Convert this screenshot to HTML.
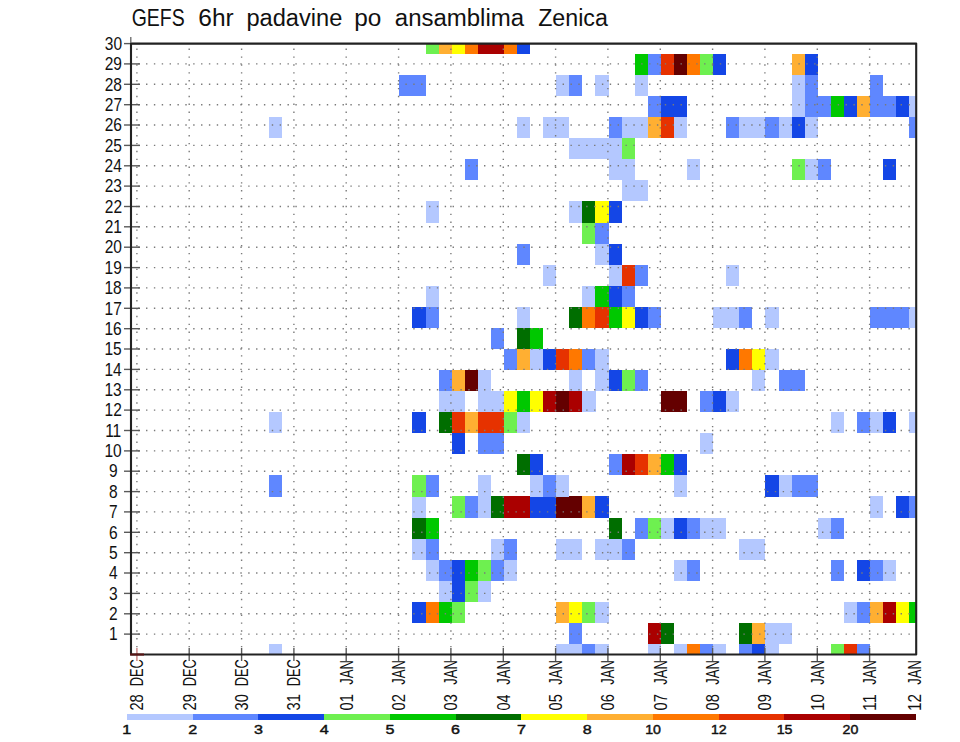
<!DOCTYPE html>
<html><head><meta charset="utf-8"><title>GEFS 6hr padavine po ansamblima Zenica</title>
<style>html,body{margin:0;padding:0;background:#fff;width:960px;height:742px;overflow:hidden}svg{display:block}text{font-family:"Liberation Sans","DejaVu Sans",sans-serif;fill:#111}</style></head><body>
<svg width="960" height="742" viewBox="0 0 960 742">
<rect width="960" height="742" fill="#fff"/>
<g shape-rendering="crispEdges">
<rect x="268.6" y="644.0" width="13.1" height="10.5" fill="#b4c8ff"/>
<rect x="268.6" y="475.4" width="13.1" height="21.1" fill="#5f87ff"/>
<rect x="268.6" y="412.1" width="13.1" height="21.1" fill="#b4c8ff"/>
<rect x="268.6" y="117.1" width="13.1" height="21.1" fill="#b4c8ff"/>
<rect x="399.3" y="74.9" width="13.1" height="21.1" fill="#5f87ff"/>
<rect x="412.4" y="601.8" width="13.1" height="21.1" fill="#1446e6"/>
<rect x="412.4" y="538.6" width="13.1" height="21.1" fill="#b4c8ff"/>
<rect x="412.4" y="517.5" width="13.1" height="21.1" fill="#006e00"/>
<rect x="412.4" y="496.4" width="13.1" height="21.1" fill="#b4c8ff"/>
<rect x="412.4" y="475.4" width="13.1" height="21.1" fill="#6ef050"/>
<rect x="412.4" y="412.1" width="13.1" height="21.1" fill="#1446e6"/>
<rect x="412.4" y="306.7" width="13.1" height="21.1" fill="#1446e6"/>
<rect x="412.4" y="74.9" width="13.1" height="21.1" fill="#5f87ff"/>
<rect x="425.5" y="601.8" width="13.1" height="21.1" fill="#ff7800"/>
<rect x="425.5" y="559.7" width="13.1" height="21.1" fill="#b4c8ff"/>
<rect x="425.5" y="538.6" width="13.1" height="21.1" fill="#5f87ff"/>
<rect x="425.5" y="517.5" width="13.1" height="21.1" fill="#00c800"/>
<rect x="425.5" y="475.4" width="13.1" height="21.1" fill="#5f87ff"/>
<rect x="425.5" y="306.7" width="13.1" height="21.1" fill="#5f87ff"/>
<rect x="425.5" y="285.7" width="13.1" height="21.1" fill="#b4c8ff"/>
<rect x="425.5" y="201.4" width="13.1" height="21.1" fill="#b4c8ff"/>
<rect x="425.5" y="43.6" width="13.1" height="10.2" fill="#6ef050"/>
<rect x="438.5" y="601.8" width="13.1" height="21.1" fill="#00c800"/>
<rect x="438.5" y="580.7" width="13.1" height="21.1" fill="#b4c8ff"/>
<rect x="438.5" y="559.7" width="13.1" height="21.1" fill="#5f87ff"/>
<rect x="438.5" y="412.1" width="13.1" height="21.1" fill="#006e00"/>
<rect x="438.5" y="391.1" width="13.1" height="21.1" fill="#b4c8ff"/>
<rect x="438.5" y="370.0" width="13.1" height="21.1" fill="#5f87ff"/>
<rect x="438.5" y="43.6" width="13.1" height="10.2" fill="#ffaf32"/>
<rect x="451.6" y="601.8" width="13.1" height="21.1" fill="#6ef050"/>
<rect x="451.6" y="580.7" width="13.1" height="21.1" fill="#1446e6"/>
<rect x="451.6" y="559.7" width="13.1" height="21.1" fill="#1446e6"/>
<rect x="451.6" y="496.4" width="13.1" height="21.1" fill="#6ef050"/>
<rect x="451.6" y="433.2" width="13.1" height="21.1" fill="#1446e6"/>
<rect x="451.6" y="412.1" width="13.1" height="21.1" fill="#e63200"/>
<rect x="451.6" y="391.1" width="13.1" height="21.1" fill="#b4c8ff"/>
<rect x="451.6" y="370.0" width="13.1" height="21.1" fill="#ffaf32"/>
<rect x="451.6" y="43.6" width="13.1" height="10.2" fill="#ffff00"/>
<rect x="464.7" y="580.7" width="13.1" height="21.1" fill="#6ef050"/>
<rect x="464.7" y="559.7" width="13.1" height="21.1" fill="#00c800"/>
<rect x="464.7" y="496.4" width="13.1" height="21.1" fill="#5f87ff"/>
<rect x="464.7" y="412.1" width="13.1" height="21.1" fill="#ffaf32"/>
<rect x="464.7" y="370.0" width="13.1" height="21.1" fill="#640000"/>
<rect x="464.7" y="159.2" width="13.1" height="21.1" fill="#5f87ff"/>
<rect x="464.7" y="43.6" width="13.1" height="10.2" fill="#ff7800"/>
<rect x="477.8" y="580.7" width="13.1" height="21.1" fill="#b4c8ff"/>
<rect x="477.8" y="559.7" width="13.1" height="21.1" fill="#6ef050"/>
<rect x="477.8" y="496.4" width="13.1" height="21.1" fill="#b4c8ff"/>
<rect x="477.8" y="475.4" width="13.1" height="21.1" fill="#b4c8ff"/>
<rect x="477.8" y="433.2" width="13.1" height="21.1" fill="#5f87ff"/>
<rect x="477.8" y="412.1" width="13.1" height="21.1" fill="#e63200"/>
<rect x="477.8" y="391.1" width="13.1" height="21.1" fill="#b4c8ff"/>
<rect x="477.8" y="370.0" width="13.1" height="21.1" fill="#b4c8ff"/>
<rect x="477.8" y="43.6" width="13.1" height="10.2" fill="#aa0000"/>
<rect x="490.8" y="559.7" width="13.1" height="21.1" fill="#5f87ff"/>
<rect x="490.8" y="538.6" width="13.1" height="21.1" fill="#b4c8ff"/>
<rect x="490.8" y="496.4" width="13.1" height="21.1" fill="#006e00"/>
<rect x="490.8" y="433.2" width="13.1" height="21.1" fill="#5f87ff"/>
<rect x="490.8" y="412.1" width="13.1" height="21.1" fill="#e63200"/>
<rect x="490.8" y="391.1" width="13.1" height="21.1" fill="#b4c8ff"/>
<rect x="490.8" y="327.8" width="13.1" height="21.1" fill="#5f87ff"/>
<rect x="490.8" y="43.6" width="13.1" height="10.2" fill="#aa0000"/>
<rect x="503.9" y="559.7" width="13.1" height="21.1" fill="#b4c8ff"/>
<rect x="503.9" y="538.6" width="13.1" height="21.1" fill="#5f87ff"/>
<rect x="503.9" y="496.4" width="13.1" height="21.1" fill="#aa0000"/>
<rect x="503.9" y="412.1" width="13.1" height="21.1" fill="#6ef050"/>
<rect x="503.9" y="391.1" width="13.1" height="21.1" fill="#ffff00"/>
<rect x="503.9" y="348.9" width="13.1" height="21.1" fill="#5f87ff"/>
<rect x="503.9" y="43.6" width="13.1" height="10.2" fill="#ff7800"/>
<rect x="517.0" y="496.4" width="13.1" height="21.1" fill="#aa0000"/>
<rect x="517.0" y="454.3" width="13.1" height="21.1" fill="#006e00"/>
<rect x="517.0" y="412.1" width="13.1" height="21.1" fill="#b4c8ff"/>
<rect x="517.0" y="391.1" width="13.1" height="21.1" fill="#00c800"/>
<rect x="517.0" y="348.9" width="13.1" height="21.1" fill="#ffaf32"/>
<rect x="517.0" y="327.8" width="13.1" height="21.1" fill="#006e00"/>
<rect x="517.0" y="306.7" width="13.1" height="21.1" fill="#b4c8ff"/>
<rect x="517.0" y="243.5" width="13.1" height="21.1" fill="#5f87ff"/>
<rect x="517.0" y="117.1" width="13.1" height="21.1" fill="#b4c8ff"/>
<rect x="517.0" y="43.6" width="13.1" height="10.2" fill="#1446e6"/>
<rect x="530.1" y="496.4" width="13.1" height="21.1" fill="#1446e6"/>
<rect x="530.1" y="475.4" width="13.1" height="21.1" fill="#b4c8ff"/>
<rect x="530.1" y="454.3" width="13.1" height="21.1" fill="#1446e6"/>
<rect x="530.1" y="391.1" width="13.1" height="21.1" fill="#ffff00"/>
<rect x="530.1" y="348.9" width="13.1" height="21.1" fill="#b4c8ff"/>
<rect x="530.1" y="327.8" width="13.1" height="21.1" fill="#00c800"/>
<rect x="543.1" y="496.4" width="13.1" height="21.1" fill="#1446e6"/>
<rect x="543.1" y="475.4" width="13.1" height="21.1" fill="#5f87ff"/>
<rect x="543.1" y="391.1" width="13.1" height="21.1" fill="#aa0000"/>
<rect x="543.1" y="348.9" width="13.1" height="21.1" fill="#1446e6"/>
<rect x="543.1" y="264.6" width="13.1" height="21.1" fill="#b4c8ff"/>
<rect x="543.1" y="117.1" width="13.1" height="21.1" fill="#b4c8ff"/>
<rect x="556.2" y="644.0" width="13.1" height="10.5" fill="#b4c8ff"/>
<rect x="556.2" y="601.8" width="13.1" height="21.1" fill="#ffaf32"/>
<rect x="556.2" y="538.6" width="13.1" height="21.1" fill="#b4c8ff"/>
<rect x="556.2" y="496.4" width="13.1" height="21.1" fill="#640000"/>
<rect x="556.2" y="475.4" width="13.1" height="21.1" fill="#b4c8ff"/>
<rect x="556.2" y="391.1" width="13.1" height="21.1" fill="#640000"/>
<rect x="556.2" y="348.9" width="13.1" height="21.1" fill="#e63200"/>
<rect x="556.2" y="117.1" width="13.1" height="21.1" fill="#b4c8ff"/>
<rect x="556.2" y="74.9" width="13.1" height="21.1" fill="#b4c8ff"/>
<rect x="569.3" y="644.0" width="13.1" height="10.5" fill="#b4c8ff"/>
<rect x="569.3" y="622.9" width="13.1" height="21.1" fill="#5f87ff"/>
<rect x="569.3" y="601.8" width="13.1" height="21.1" fill="#ffff00"/>
<rect x="569.3" y="538.6" width="13.1" height="21.1" fill="#b4c8ff"/>
<rect x="569.3" y="496.4" width="13.1" height="21.1" fill="#640000"/>
<rect x="569.3" y="391.1" width="13.1" height="21.1" fill="#aa0000"/>
<rect x="569.3" y="370.0" width="13.1" height="21.1" fill="#b4c8ff"/>
<rect x="569.3" y="348.9" width="13.1" height="21.1" fill="#ff7800"/>
<rect x="569.3" y="306.7" width="13.1" height="21.1" fill="#006e00"/>
<rect x="569.3" y="201.4" width="13.1" height="21.1" fill="#b4c8ff"/>
<rect x="569.3" y="138.1" width="13.1" height="21.1" fill="#b4c8ff"/>
<rect x="569.3" y="74.9" width="13.1" height="21.1" fill="#5f87ff"/>
<rect x="582.4" y="644.0" width="13.1" height="10.5" fill="#5f87ff"/>
<rect x="582.4" y="601.8" width="13.1" height="21.1" fill="#6ef050"/>
<rect x="582.4" y="496.4" width="13.1" height="21.1" fill="#ffaf32"/>
<rect x="582.4" y="391.1" width="13.1" height="21.1" fill="#b4c8ff"/>
<rect x="582.4" y="348.9" width="13.1" height="21.1" fill="#5f87ff"/>
<rect x="582.4" y="306.7" width="13.1" height="21.1" fill="#ff7800"/>
<rect x="582.4" y="285.7" width="13.1" height="21.1" fill="#b4c8ff"/>
<rect x="582.4" y="222.4" width="13.1" height="21.1" fill="#6ef050"/>
<rect x="582.4" y="201.4" width="13.1" height="21.1" fill="#006e00"/>
<rect x="582.4" y="138.1" width="13.1" height="21.1" fill="#b4c8ff"/>
<rect x="595.4" y="644.0" width="13.1" height="10.5" fill="#b4c8ff"/>
<rect x="595.4" y="601.8" width="13.1" height="21.1" fill="#b4c8ff"/>
<rect x="595.4" y="538.6" width="13.1" height="21.1" fill="#b4c8ff"/>
<rect x="595.4" y="496.4" width="13.1" height="21.1" fill="#1446e6"/>
<rect x="595.4" y="370.0" width="13.1" height="21.1" fill="#b4c8ff"/>
<rect x="595.4" y="348.9" width="13.1" height="21.1" fill="#b4c8ff"/>
<rect x="595.4" y="306.7" width="13.1" height="21.1" fill="#e63200"/>
<rect x="595.4" y="285.7" width="13.1" height="21.1" fill="#00c800"/>
<rect x="595.4" y="243.5" width="13.1" height="21.1" fill="#b4c8ff"/>
<rect x="595.4" y="222.4" width="13.1" height="21.1" fill="#5f87ff"/>
<rect x="595.4" y="201.4" width="13.1" height="21.1" fill="#ffff00"/>
<rect x="595.4" y="138.1" width="13.1" height="21.1" fill="#b4c8ff"/>
<rect x="595.4" y="74.9" width="13.1" height="21.1" fill="#b4c8ff"/>
<rect x="608.5" y="538.6" width="13.1" height="21.1" fill="#b4c8ff"/>
<rect x="608.5" y="517.5" width="13.1" height="21.1" fill="#006e00"/>
<rect x="608.5" y="454.3" width="13.1" height="21.1" fill="#5f87ff"/>
<rect x="608.5" y="370.0" width="13.1" height="21.1" fill="#1446e6"/>
<rect x="608.5" y="306.7" width="13.1" height="21.1" fill="#00c800"/>
<rect x="608.5" y="285.7" width="13.1" height="21.1" fill="#1446e6"/>
<rect x="608.5" y="264.6" width="13.1" height="21.1" fill="#b4c8ff"/>
<rect x="608.5" y="243.5" width="13.1" height="21.1" fill="#1446e6"/>
<rect x="608.5" y="201.4" width="13.1" height="21.1" fill="#1446e6"/>
<rect x="608.5" y="159.2" width="13.1" height="21.1" fill="#b4c8ff"/>
<rect x="608.5" y="138.1" width="13.1" height="21.1" fill="#b4c8ff"/>
<rect x="608.5" y="117.1" width="13.1" height="21.1" fill="#5f87ff"/>
<rect x="621.6" y="538.6" width="13.1" height="21.1" fill="#5f87ff"/>
<rect x="621.6" y="454.3" width="13.1" height="21.1" fill="#aa0000"/>
<rect x="621.6" y="370.0" width="13.1" height="21.1" fill="#6ef050"/>
<rect x="621.6" y="306.7" width="13.1" height="21.1" fill="#ffff00"/>
<rect x="621.6" y="285.7" width="13.1" height="21.1" fill="#5f87ff"/>
<rect x="621.6" y="264.6" width="13.1" height="21.1" fill="#e63200"/>
<rect x="621.6" y="180.3" width="13.1" height="21.1" fill="#b4c8ff"/>
<rect x="621.6" y="159.2" width="13.1" height="21.1" fill="#b4c8ff"/>
<rect x="621.6" y="138.1" width="13.1" height="21.1" fill="#6ef050"/>
<rect x="621.6" y="117.1" width="13.1" height="21.1" fill="#b4c8ff"/>
<rect x="634.7" y="517.5" width="13.1" height="21.1" fill="#5f87ff"/>
<rect x="634.7" y="454.3" width="13.1" height="21.1" fill="#e63200"/>
<rect x="634.7" y="370.0" width="13.1" height="21.1" fill="#5f87ff"/>
<rect x="634.7" y="306.7" width="13.1" height="21.1" fill="#1446e6"/>
<rect x="634.7" y="264.6" width="13.1" height="21.1" fill="#5f87ff"/>
<rect x="634.7" y="180.3" width="13.1" height="21.1" fill="#b4c8ff"/>
<rect x="634.7" y="117.1" width="13.1" height="21.1" fill="#b4c8ff"/>
<rect x="634.7" y="74.9" width="13.1" height="21.1" fill="#b4c8ff"/>
<rect x="634.7" y="53.8" width="13.1" height="21.1" fill="#00c800"/>
<rect x="647.7" y="644.0" width="13.1" height="10.5" fill="#b4c8ff"/>
<rect x="647.7" y="622.9" width="13.1" height="21.1" fill="#aa0000"/>
<rect x="647.7" y="517.5" width="13.1" height="21.1" fill="#6ef050"/>
<rect x="647.7" y="454.3" width="13.1" height="21.1" fill="#ffaf32"/>
<rect x="647.7" y="306.7" width="13.1" height="21.1" fill="#5f87ff"/>
<rect x="647.7" y="117.1" width="13.1" height="21.1" fill="#ffaf32"/>
<rect x="647.7" y="96.0" width="13.1" height="21.1" fill="#5f87ff"/>
<rect x="647.7" y="53.8" width="13.1" height="21.1" fill="#5f87ff"/>
<rect x="660.8" y="622.9" width="13.1" height="21.1" fill="#006e00"/>
<rect x="660.8" y="517.5" width="13.1" height="21.1" fill="#b4c8ff"/>
<rect x="660.8" y="454.3" width="13.1" height="21.1" fill="#00c800"/>
<rect x="660.8" y="391.1" width="13.1" height="21.1" fill="#640000"/>
<rect x="660.8" y="117.1" width="13.1" height="21.1" fill="#e63200"/>
<rect x="660.8" y="96.0" width="13.1" height="21.1" fill="#1446e6"/>
<rect x="660.8" y="53.8" width="13.1" height="21.1" fill="#e63200"/>
<rect x="673.9" y="644.0" width="13.1" height="10.5" fill="#b4c8ff"/>
<rect x="673.9" y="559.7" width="13.1" height="21.1" fill="#b4c8ff"/>
<rect x="673.9" y="517.5" width="13.1" height="21.1" fill="#1446e6"/>
<rect x="673.9" y="475.4" width="13.1" height="21.1" fill="#b4c8ff"/>
<rect x="673.9" y="454.3" width="13.1" height="21.1" fill="#1446e6"/>
<rect x="673.9" y="391.1" width="13.1" height="21.1" fill="#640000"/>
<rect x="673.9" y="117.1" width="13.1" height="21.1" fill="#b4c8ff"/>
<rect x="673.9" y="96.0" width="13.1" height="21.1" fill="#1446e6"/>
<rect x="673.9" y="53.8" width="13.1" height="21.1" fill="#640000"/>
<rect x="687.0" y="644.0" width="13.1" height="10.5" fill="#ff7800"/>
<rect x="687.0" y="559.7" width="13.1" height="21.1" fill="#5f87ff"/>
<rect x="687.0" y="517.5" width="13.1" height="21.1" fill="#5f87ff"/>
<rect x="687.0" y="159.2" width="13.1" height="21.1" fill="#b4c8ff"/>
<rect x="687.0" y="53.8" width="13.1" height="21.1" fill="#ff7800"/>
<rect x="700.0" y="644.0" width="13.1" height="10.5" fill="#5f87ff"/>
<rect x="700.0" y="517.5" width="13.1" height="21.1" fill="#b4c8ff"/>
<rect x="700.0" y="433.2" width="13.1" height="21.1" fill="#b4c8ff"/>
<rect x="700.0" y="391.1" width="13.1" height="21.1" fill="#5f87ff"/>
<rect x="700.0" y="53.8" width="13.1" height="21.1" fill="#6ef050"/>
<rect x="713.1" y="644.0" width="13.1" height="10.5" fill="#b4c8ff"/>
<rect x="713.1" y="517.5" width="13.1" height="21.1" fill="#b4c8ff"/>
<rect x="713.1" y="391.1" width="13.1" height="21.1" fill="#1446e6"/>
<rect x="713.1" y="306.7" width="13.1" height="21.1" fill="#b4c8ff"/>
<rect x="713.1" y="53.8" width="13.1" height="21.1" fill="#1446e6"/>
<rect x="726.2" y="391.1" width="13.1" height="21.1" fill="#b4c8ff"/>
<rect x="726.2" y="348.9" width="13.1" height="21.1" fill="#1446e6"/>
<rect x="726.2" y="306.7" width="13.1" height="21.1" fill="#b4c8ff"/>
<rect x="726.2" y="264.6" width="13.1" height="21.1" fill="#b4c8ff"/>
<rect x="726.2" y="117.1" width="13.1" height="21.1" fill="#5f87ff"/>
<rect x="739.3" y="644.0" width="13.1" height="10.5" fill="#5f87ff"/>
<rect x="739.3" y="622.9" width="13.1" height="21.1" fill="#006e00"/>
<rect x="739.3" y="538.6" width="13.1" height="21.1" fill="#b4c8ff"/>
<rect x="739.3" y="348.9" width="13.1" height="21.1" fill="#ff7800"/>
<rect x="739.3" y="306.7" width="13.1" height="21.1" fill="#5f87ff"/>
<rect x="739.3" y="117.1" width="13.1" height="21.1" fill="#b4c8ff"/>
<rect x="752.3" y="644.0" width="13.1" height="10.5" fill="#1446e6"/>
<rect x="752.3" y="622.9" width="13.1" height="21.1" fill="#ffaf32"/>
<rect x="752.3" y="538.6" width="13.1" height="21.1" fill="#b4c8ff"/>
<rect x="752.3" y="370.0" width="13.1" height="21.1" fill="#b4c8ff"/>
<rect x="752.3" y="348.9" width="13.1" height="21.1" fill="#ffff00"/>
<rect x="752.3" y="117.1" width="13.1" height="21.1" fill="#b4c8ff"/>
<rect x="765.4" y="644.0" width="13.1" height="10.5" fill="#b4c8ff"/>
<rect x="765.4" y="622.9" width="13.1" height="21.1" fill="#b4c8ff"/>
<rect x="765.4" y="475.4" width="13.1" height="21.1" fill="#1446e6"/>
<rect x="765.4" y="348.9" width="13.1" height="21.1" fill="#b4c8ff"/>
<rect x="765.4" y="306.7" width="13.1" height="21.1" fill="#b4c8ff"/>
<rect x="765.4" y="117.1" width="13.1" height="21.1" fill="#5f87ff"/>
<rect x="778.5" y="622.9" width="13.1" height="21.1" fill="#b4c8ff"/>
<rect x="778.5" y="475.4" width="13.1" height="21.1" fill="#b4c8ff"/>
<rect x="778.5" y="370.0" width="13.1" height="21.1" fill="#5f87ff"/>
<rect x="778.5" y="117.1" width="13.1" height="21.1" fill="#b4c8ff"/>
<rect x="791.6" y="475.4" width="13.1" height="21.1" fill="#5f87ff"/>
<rect x="791.6" y="370.0" width="13.1" height="21.1" fill="#5f87ff"/>
<rect x="791.6" y="159.2" width="13.1" height="21.1" fill="#6ef050"/>
<rect x="791.6" y="117.1" width="13.1" height="21.1" fill="#1446e6"/>
<rect x="791.6" y="96.0" width="13.1" height="21.1" fill="#b4c8ff"/>
<rect x="791.6" y="74.9" width="13.1" height="21.1" fill="#b4c8ff"/>
<rect x="791.6" y="53.8" width="13.1" height="21.1" fill="#ffaf32"/>
<rect x="804.6" y="475.4" width="13.1" height="21.1" fill="#5f87ff"/>
<rect x="804.6" y="159.2" width="13.1" height="21.1" fill="#b4c8ff"/>
<rect x="804.6" y="117.1" width="13.1" height="21.1" fill="#b4c8ff"/>
<rect x="804.6" y="96.0" width="13.1" height="21.1" fill="#5f87ff"/>
<rect x="804.6" y="74.9" width="13.1" height="21.1" fill="#5f87ff"/>
<rect x="804.6" y="53.8" width="13.1" height="21.1" fill="#1446e6"/>
<rect x="817.7" y="517.5" width="13.1" height="21.1" fill="#b4c8ff"/>
<rect x="817.7" y="159.2" width="13.1" height="21.1" fill="#5f87ff"/>
<rect x="817.7" y="96.0" width="13.1" height="21.1" fill="#5f87ff"/>
<rect x="830.8" y="644.0" width="13.1" height="10.5" fill="#6ef050"/>
<rect x="830.8" y="559.7" width="13.1" height="21.1" fill="#5f87ff"/>
<rect x="830.8" y="517.5" width="13.1" height="21.1" fill="#5f87ff"/>
<rect x="830.8" y="412.1" width="13.1" height="21.1" fill="#b4c8ff"/>
<rect x="830.8" y="96.0" width="13.1" height="21.1" fill="#00c800"/>
<rect x="843.9" y="644.0" width="13.1" height="10.5" fill="#e63200"/>
<rect x="843.9" y="601.8" width="13.1" height="21.1" fill="#b4c8ff"/>
<rect x="843.9" y="96.0" width="13.1" height="21.1" fill="#1446e6"/>
<rect x="856.9" y="644.0" width="13.1" height="10.5" fill="#5f87ff"/>
<rect x="856.9" y="601.8" width="13.1" height="21.1" fill="#5f87ff"/>
<rect x="856.9" y="559.7" width="13.1" height="21.1" fill="#1446e6"/>
<rect x="856.9" y="412.1" width="13.1" height="21.1" fill="#5f87ff"/>
<rect x="856.9" y="96.0" width="13.1" height="21.1" fill="#ffaf32"/>
<rect x="870.0" y="601.8" width="13.1" height="21.1" fill="#ffaf32"/>
<rect x="870.0" y="559.7" width="13.1" height="21.1" fill="#5f87ff"/>
<rect x="870.0" y="496.4" width="13.1" height="21.1" fill="#b4c8ff"/>
<rect x="870.0" y="412.1" width="13.1" height="21.1" fill="#b4c8ff"/>
<rect x="870.0" y="306.7" width="13.1" height="21.1" fill="#5f87ff"/>
<rect x="870.0" y="96.0" width="13.1" height="21.1" fill="#5f87ff"/>
<rect x="870.0" y="74.9" width="13.1" height="21.1" fill="#5f87ff"/>
<rect x="883.1" y="601.8" width="13.1" height="21.1" fill="#aa0000"/>
<rect x="883.1" y="559.7" width="13.1" height="21.1" fill="#b4c8ff"/>
<rect x="883.1" y="412.1" width="13.1" height="21.1" fill="#1446e6"/>
<rect x="883.1" y="306.7" width="13.1" height="21.1" fill="#5f87ff"/>
<rect x="883.1" y="159.2" width="13.1" height="21.1" fill="#1446e6"/>
<rect x="883.1" y="96.0" width="13.1" height="21.1" fill="#5f87ff"/>
<rect x="896.2" y="601.8" width="13.1" height="21.1" fill="#ffff00"/>
<rect x="896.2" y="496.4" width="13.1" height="21.1" fill="#1446e6"/>
<rect x="896.2" y="306.7" width="13.1" height="21.1" fill="#5f87ff"/>
<rect x="896.2" y="96.0" width="13.1" height="21.1" fill="#1446e6"/>
<rect x="909.2" y="601.8" width="6.8" height="21.1" fill="#00c800"/>
<rect x="909.2" y="496.4" width="6.8" height="21.1" fill="#5f87ff"/>
<rect x="909.2" y="412.1" width="6.8" height="21.1" fill="#b4c8ff"/>
<rect x="909.2" y="306.7" width="6.8" height="21.1" fill="#b4c8ff"/>
<rect x="909.2" y="117.1" width="6.8" height="21.1" fill="#5f87ff"/>
<rect x="909.2" y="96.0" width="6.8" height="21.1" fill="#b4c8ff"/>
</g>
<g stroke="#7a7a7a" stroke-width="1.4" stroke-dasharray="1.4 6.46" fill="none">
<line x1="130.3" y1="634.1" x2="916.0" y2="634.1"/>
<line x1="130.3" y1="613.8" x2="916.0" y2="613.8"/>
<line x1="130.3" y1="593.4" x2="916.0" y2="593.4"/>
<line x1="130.3" y1="573.0" x2="916.0" y2="573.0"/>
<line x1="130.3" y1="552.7" x2="916.0" y2="552.7"/>
<line x1="130.3" y1="532.3" x2="916.0" y2="532.3"/>
<line x1="130.3" y1="511.9" x2="916.0" y2="511.9"/>
<line x1="130.3" y1="491.6" x2="916.0" y2="491.6"/>
<line x1="130.3" y1="471.2" x2="916.0" y2="471.2"/>
<line x1="130.3" y1="450.9" x2="916.0" y2="450.9"/>
<line x1="130.3" y1="430.5" x2="916.0" y2="430.5"/>
<line x1="130.3" y1="410.1" x2="916.0" y2="410.1"/>
<line x1="130.3" y1="389.8" x2="916.0" y2="389.8"/>
<line x1="130.3" y1="369.4" x2="916.0" y2="369.4"/>
<line x1="130.3" y1="349.0" x2="916.0" y2="349.0"/>
<line x1="130.3" y1="328.7" x2="916.0" y2="328.7"/>
<line x1="130.3" y1="308.3" x2="916.0" y2="308.3"/>
<line x1="130.3" y1="287.9" x2="916.0" y2="287.9"/>
<line x1="130.3" y1="267.6" x2="916.0" y2="267.6"/>
<line x1="130.3" y1="247.2" x2="916.0" y2="247.2"/>
<line x1="130.3" y1="226.8" x2="916.0" y2="226.8"/>
<line x1="130.3" y1="206.5" x2="916.0" y2="206.5"/>
<line x1="130.3" y1="186.1" x2="916.0" y2="186.1"/>
<line x1="130.3" y1="165.8" x2="916.0" y2="165.8"/>
<line x1="130.3" y1="145.4" x2="916.0" y2="145.4"/>
<line x1="130.3" y1="125.0" x2="916.0" y2="125.0"/>
<line x1="130.3" y1="104.7" x2="916.0" y2="104.7"/>
<line x1="130.3" y1="84.3" x2="916.0" y2="84.3"/>
<line x1="130.3" y1="63.9" x2="916.0" y2="63.9"/>
<line x1="136.9" y1="48.6" x2="136.9" y2="654.5"/>
<line x1="189.2" y1="48.6" x2="189.2" y2="654.5"/>
<line x1="241.6" y1="48.6" x2="241.6" y2="654.5"/>
<line x1="293.9" y1="48.6" x2="293.9" y2="654.5"/>
<line x1="346.2" y1="48.6" x2="346.2" y2="654.5"/>
<line x1="398.6" y1="48.6" x2="398.6" y2="654.5"/>
<line x1="450.9" y1="48.6" x2="450.9" y2="654.5"/>
<line x1="503.3" y1="48.6" x2="503.3" y2="654.5"/>
<line x1="555.6" y1="48.6" x2="555.6" y2="654.5"/>
<line x1="607.9" y1="48.6" x2="607.9" y2="654.5"/>
<line x1="660.3" y1="48.6" x2="660.3" y2="654.5"/>
<line x1="712.6" y1="48.6" x2="712.6" y2="654.5"/>
<line x1="764.9" y1="48.6" x2="764.9" y2="654.5"/>
<line x1="817.3" y1="48.6" x2="817.3" y2="654.5"/>
<line x1="869.6" y1="48.6" x2="869.6" y2="654.5"/>
</g>
<g stroke="#5a5a5a" stroke-width="1.4">
<line x1="124" y1="634.1" x2="140" y2="634.1"/>
<line x1="124" y1="613.8" x2="140" y2="613.8"/>
<line x1="124" y1="593.4" x2="140" y2="593.4"/>
<line x1="124" y1="573.0" x2="140" y2="573.0"/>
<line x1="124" y1="552.7" x2="140" y2="552.7"/>
<line x1="124" y1="532.3" x2="140" y2="532.3"/>
<line x1="124" y1="511.9" x2="140" y2="511.9"/>
<line x1="124" y1="491.6" x2="140" y2="491.6"/>
<line x1="124" y1="471.2" x2="140" y2="471.2"/>
<line x1="124" y1="450.9" x2="140" y2="450.9"/>
<line x1="124" y1="430.5" x2="140" y2="430.5"/>
<line x1="124" y1="410.1" x2="140" y2="410.1"/>
<line x1="124" y1="389.8" x2="140" y2="389.8"/>
<line x1="124" y1="369.4" x2="140" y2="369.4"/>
<line x1="124" y1="349.0" x2="140" y2="349.0"/>
<line x1="124" y1="328.7" x2="140" y2="328.7"/>
<line x1="124" y1="308.3" x2="140" y2="308.3"/>
<line x1="124" y1="287.9" x2="140" y2="287.9"/>
<line x1="124" y1="267.6" x2="140" y2="267.6"/>
<line x1="124" y1="247.2" x2="140" y2="247.2"/>
<line x1="124" y1="226.8" x2="140" y2="226.8"/>
<line x1="124" y1="206.5" x2="140" y2="206.5"/>
<line x1="124" y1="186.1" x2="140" y2="186.1"/>
<line x1="124" y1="165.8" x2="140" y2="165.8"/>
<line x1="124" y1="145.4" x2="140" y2="145.4"/>
<line x1="124" y1="125.0" x2="140" y2="125.0"/>
<line x1="124" y1="104.7" x2="140" y2="104.7"/>
<line x1="124" y1="84.3" x2="140" y2="84.3"/>
<line x1="124" y1="63.9" x2="140" y2="63.9"/>
<line x1="124" y1="43.6" x2="140" y2="43.6"/>
<line x1="189.2" y1="648" x2="189.2" y2="661"/>
<line x1="241.6" y1="648" x2="241.6" y2="661"/>
<line x1="293.9" y1="648" x2="293.9" y2="661"/>
<line x1="346.2" y1="648" x2="346.2" y2="661"/>
<line x1="398.6" y1="648" x2="398.6" y2="661"/>
<line x1="450.9" y1="648" x2="450.9" y2="661"/>
<line x1="503.3" y1="648" x2="503.3" y2="661"/>
<line x1="555.6" y1="648" x2="555.6" y2="661"/>
<line x1="607.9" y1="648" x2="607.9" y2="661"/>
<line x1="660.3" y1="648" x2="660.3" y2="661"/>
<line x1="712.6" y1="648" x2="712.6" y2="661"/>
<line x1="764.9" y1="648" x2="764.9" y2="661"/>
<line x1="817.3" y1="648" x2="817.3" y2="661"/>
<line x1="869.6" y1="648" x2="869.6" y2="661"/>
</g>
<line x1="136.9" y1="648" x2="136.9" y2="661" stroke="#c98080" stroke-width="1.4"/>
<rect x="131" y="43.6" width="785.2" height="610.9" fill="none" stroke="#222" stroke-width="2.1" stroke-linejoin="round"/>
<line x1="130" y1="654.5" x2="144" y2="654.5" stroke="#5a1414" stroke-width="2.1"/>
<line x1="130.8" y1="37" x2="130.8" y2="43" stroke="#666" stroke-width="1.3"/>
<text transform="translate(108.88,640.33) scale(0.877,1)" font-size="17.70">1</text>
<text transform="translate(109.06,619.96) scale(0.877,1)" font-size="17.70">2</text>
<text transform="translate(109.11,599.60) scale(0.877,1)" font-size="17.70">3</text>
<text transform="translate(109.11,579.23) scale(0.877,1)" font-size="17.70">4</text>
<text transform="translate(109.11,558.87) scale(0.877,1)" font-size="17.70">5</text>
<text transform="translate(109.02,538.51) scale(0.877,1)" font-size="17.70">6</text>
<text transform="translate(109.06,518.14) scale(0.877,1)" font-size="17.70">7</text>
<text transform="translate(109.11,497.78) scale(0.877,1)" font-size="17.70">8</text>
<text transform="translate(109.11,477.41) scale(0.877,1)" font-size="17.70">9</text>
<text transform="translate(104.50,457.05) scale(0.877,1)" font-size="17.70">10</text>
<text transform="translate(105.14,436.69) scale(0.877,1)" font-size="17.70">11</text>
<text transform="translate(104.59,416.32) scale(0.877,1)" font-size="17.70">12</text>
<text transform="translate(104.50,395.96) scale(0.877,1)" font-size="17.70">13</text>
<text transform="translate(104.41,375.59) scale(0.877,1)" font-size="17.70">14</text>
<text transform="translate(104.50,355.23) scale(0.877,1)" font-size="17.70">15</text>
<text transform="translate(104.50,334.87) scale(0.877,1)" font-size="17.70">16</text>
<text transform="translate(104.59,314.50) scale(0.877,1)" font-size="17.70">17</text>
<text transform="translate(104.50,294.14) scale(0.877,1)" font-size="17.70">18</text>
<text transform="translate(104.54,273.77) scale(0.877,1)" font-size="17.70">19</text>
<text transform="translate(104.68,253.41) scale(0.877,1)" font-size="17.70">20</text>
<text transform="translate(104.73,233.05) scale(0.877,1)" font-size="17.70">21</text>
<text transform="translate(104.77,212.68) scale(0.877,1)" font-size="17.70">22</text>
<text transform="translate(104.68,192.32) scale(0.877,1)" font-size="17.70">23</text>
<text transform="translate(104.59,171.95) scale(0.877,1)" font-size="17.70">24</text>
<text transform="translate(104.68,151.59) scale(0.877,1)" font-size="17.70">25</text>
<text transform="translate(104.68,131.23) scale(0.877,1)" font-size="17.70">26</text>
<text transform="translate(104.77,110.86) scale(0.877,1)" font-size="17.70">27</text>
<text transform="translate(104.68,90.50) scale(0.877,1)" font-size="17.70">28</text>
<text transform="translate(104.73,70.13) scale(0.877,1)" font-size="17.70">29</text>
<text transform="translate(104.77,49.77) scale(0.877,1)" font-size="17.70">30</text>
<text transform="translate(143.20,709.80) rotate(-90) translate(-0.78,0) scale(0.833,1)" font-size="17.70">28</text>
<text transform="translate(143.20,685.20) rotate(-90) translate(-1.06,0) scale(0.725,1)" font-size="17.70">DEC</text>
<text transform="translate(195.54,709.80) rotate(-90) translate(-0.78,0) scale(0.838,1)" font-size="17.70">29</text>
<text transform="translate(195.54,685.20) rotate(-90) translate(-1.06,0) scale(0.725,1)" font-size="17.70">DEC</text>
<text transform="translate(247.87,709.80) rotate(-90) translate(-0.60,0) scale(0.823,1)" font-size="17.70">30</text>
<text transform="translate(247.87,685.20) rotate(-90) translate(-1.06,0) scale(0.725,1)" font-size="17.70">DEC</text>
<text transform="translate(300.21,709.80) rotate(-90) translate(-0.60,0) scale(0.828,1)" font-size="17.70">31</text>
<text transform="translate(300.21,685.20) rotate(-90) translate(-1.06,0) scale(0.725,1)" font-size="17.70">DEC</text>
<text transform="translate(352.54,709.80) rotate(-90) translate(-0.60,0) scale(0.828,1)" font-size="17.70">01</text>
<text transform="translate(352.54,684.50) rotate(-90) translate(-0.23,0) scale(0.739,1)" font-size="17.70">JAN</text>
<text transform="translate(404.88,709.80) rotate(-90) translate(-0.61,0) scale(0.833,1)" font-size="17.70">02</text>
<text transform="translate(404.88,684.50) rotate(-90) translate(-0.23,0) scale(0.739,1)" font-size="17.70">JAN</text>
<text transform="translate(457.22,709.80) rotate(-90) translate(-0.60,0) scale(0.823,1)" font-size="17.70">03</text>
<text transform="translate(457.22,684.50) rotate(-90) translate(-0.23,0) scale(0.739,1)" font-size="17.70">JAN</text>
<text transform="translate(509.55,709.80) rotate(-90) translate(-0.59,0) scale(0.814,1)" font-size="17.70">04</text>
<text transform="translate(509.55,684.50) rotate(-90) translate(-0.23,0) scale(0.739,1)" font-size="17.70">JAN</text>
<text transform="translate(561.89,709.80) rotate(-90) translate(-0.60,0) scale(0.823,1)" font-size="17.70">05</text>
<text transform="translate(561.89,684.50) rotate(-90) translate(-0.23,0) scale(0.739,1)" font-size="17.70">JAN</text>
<text transform="translate(614.22,709.80) rotate(-90) translate(-0.60,0) scale(0.823,1)" font-size="17.70">06</text>
<text transform="translate(614.22,684.50) rotate(-90) translate(-0.23,0) scale(0.739,1)" font-size="17.70">JAN</text>
<text transform="translate(666.56,709.80) rotate(-90) translate(-0.61,0) scale(0.833,1)" font-size="17.70">07</text>
<text transform="translate(666.56,684.50) rotate(-90) translate(-0.23,0) scale(0.739,1)" font-size="17.70">JAN</text>
<text transform="translate(718.90,709.80) rotate(-90) translate(-0.60,0) scale(0.823,1)" font-size="17.70">08</text>
<text transform="translate(718.90,684.50) rotate(-90) translate(-0.23,0) scale(0.739,1)" font-size="17.70">JAN</text>
<text transform="translate(771.23,709.80) rotate(-90) translate(-0.60,0) scale(0.828,1)" font-size="17.70">09</text>
<text transform="translate(771.23,684.50) rotate(-90) translate(-0.23,0) scale(0.739,1)" font-size="17.70">JAN</text>
<text transform="translate(823.57,709.80) rotate(-90) translate(-1.15,0) scale(0.852,1)" font-size="17.70">10</text>
<text transform="translate(823.57,684.50) rotate(-90) translate(-0.23,0) scale(0.739,1)" font-size="17.70">JAN</text>
<text transform="translate(875.90,709.80) rotate(-90) translate(-1.26,0) scale(0.929,1)" font-size="17.70">11</text>
<text transform="translate(875.90,684.50) rotate(-90) translate(-0.23,0) scale(0.739,1)" font-size="17.70">JAN</text>
<text transform="translate(920.75,709.80) rotate(-90) translate(-1.17,0) scale(0.863,1)" font-size="17.70">12</text>
<text transform="translate(920.75,684.50) rotate(-90) translate(-0.23,0) scale(0.739,1)" font-size="17.70">JAN</text>
<text transform="translate(131.73,26.4) scale(0.797,1)" font-size="24.43">GEFS</text>
<text transform="translate(198.27,26.4) scale(1.003,1)" font-size="24.43">6hr</text>
<text transform="translate(246.43,26.4) scale(0.967,1)" font-size="24.43">padavine</text>
<text transform="translate(354.17,26.4) scale(0.999,1)" font-size="24.43">po</text>
<text transform="translate(394.80,26.4) scale(0.982,1)" font-size="24.43">ansamblima</text>
<text transform="translate(538.13,26.4) scale(0.951,1)" font-size="24.43">Zenica</text>
<g shape-rendering="crispEdges">
<rect x="126.90" y="714.3" width="65.80" height="5.8" fill="#b4c8ff"/>
<rect x="192.65" y="714.3" width="65.80" height="5.8" fill="#5f87ff"/>
<rect x="258.40" y="714.3" width="65.80" height="5.8" fill="#1446e6"/>
<rect x="324.15" y="714.3" width="65.80" height="5.8" fill="#6ef050"/>
<rect x="389.90" y="714.3" width="65.80" height="5.8" fill="#00c800"/>
<rect x="455.65" y="714.3" width="65.80" height="5.8" fill="#006e00"/>
<rect x="521.40" y="714.3" width="65.80" height="5.8" fill="#ffff00"/>
<rect x="587.15" y="714.3" width="65.80" height="5.8" fill="#ffaf32"/>
<rect x="652.90" y="714.3" width="65.80" height="5.8" fill="#ff7800"/>
<rect x="718.65" y="714.3" width="65.80" height="5.8" fill="#e63200"/>
<rect x="784.40" y="714.3" width="65.80" height="5.8" fill="#aa0000"/>
<rect x="850.15" y="714.3" width="65.80" height="5.8" fill="#640000"/>
</g>
<text transform="translate(122.20,733.5) scale(1.200,1)" font-size="13.40" stroke="#111" stroke-width="0.45">1</text>
<text transform="translate(188.14,733.5) scale(1.200,1)" font-size="13.40" stroke="#111" stroke-width="0.45">2</text>
<text transform="translate(253.95,733.5) scale(1.200,1)" font-size="13.40" stroke="#111" stroke-width="0.45">3</text>
<text transform="translate(319.76,733.5) scale(1.200,1)" font-size="13.40" stroke="#111" stroke-width="0.45">4</text>
<text transform="translate(385.45,733.5) scale(1.200,1)" font-size="13.40" stroke="#111" stroke-width="0.45">5</text>
<text transform="translate(451.07,733.5) scale(1.200,1)" font-size="13.40" stroke="#111" stroke-width="0.45">6</text>
<text transform="translate(516.89,733.5) scale(1.200,1)" font-size="13.40" stroke="#111" stroke-width="0.45">7</text>
<text transform="translate(582.64,733.5) scale(1.200,1)" font-size="13.40" stroke="#111" stroke-width="0.45">8</text>
<text transform="translate(645.16,733.5) scale(1.060,1)" font-size="13.40" stroke="#111" stroke-width="0.45">10</text>
<text transform="translate(710.96,733.5) scale(1.060,1)" font-size="13.40" stroke="#111" stroke-width="0.45">12</text>
<text transform="translate(776.66,733.5) scale(1.060,1)" font-size="13.40" stroke="#111" stroke-width="0.45">15</text>
<text transform="translate(842.57,733.5) scale(1.060,1)" font-size="13.40" stroke="#111" stroke-width="0.45">20</text>
</svg></body></html>
